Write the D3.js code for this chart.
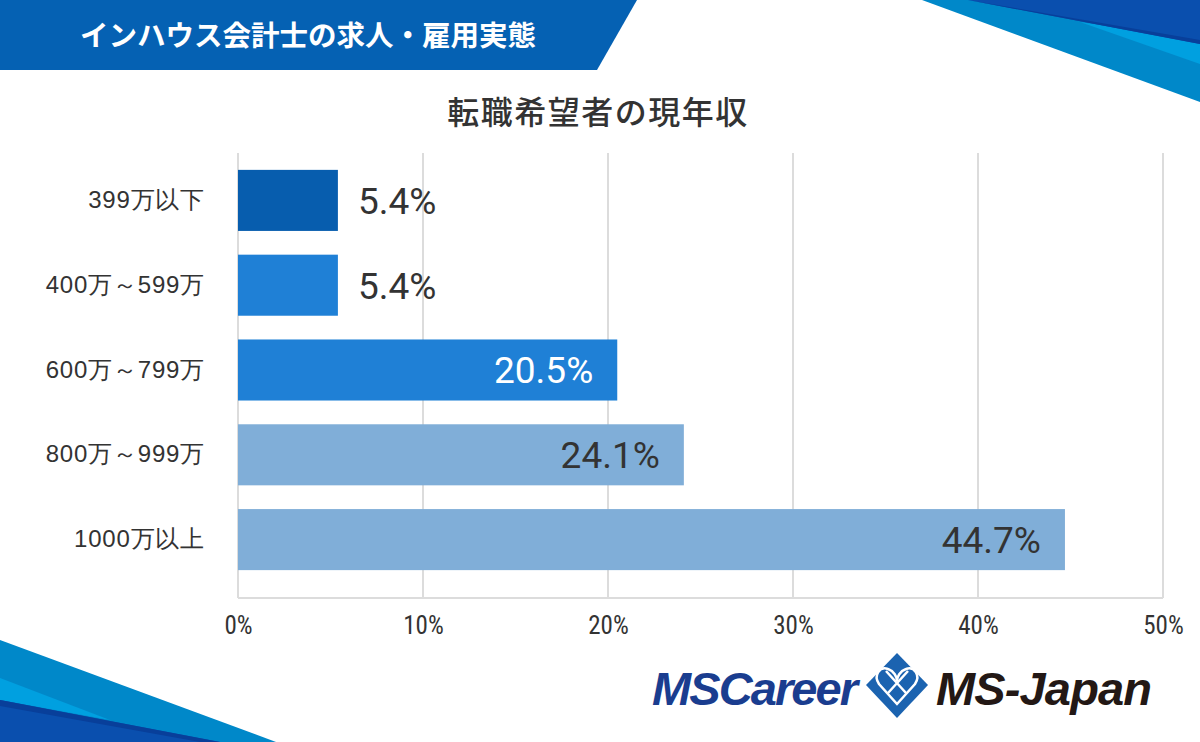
<!DOCTYPE html>
<meta charset="utf-8">
<style>
  body { margin: 0; background: #fff; }
  svg { display: block; font-family: "Noto Sans CJK JP", "Noto Sans", Roboto, sans-serif; }
</style>
<body>
<script src="https://cdn.jsdelivr.net/npm/d3@7"></script>
<script>
// data
var categories = ['399万以下', '400万～599万', '600万～799万', '800万～999万', '1000万以上'];
var values = [5.4, 5.4, 20.5, 24.1, 44.7];
var barColors = ['#075dae', '#1f80d6', '#1f80d6', '#80aed8', '#80aed8'];
var tickValues = [0, 10, 20, 30, 40, 50];

var W = 1200, H = 742;
var svg = d3.select('body').append('svg').attr('width', W).attr('height', H);

// header band
svg.append('polygon').attr('points', '0,0 637,0 597,70 0,70').attr('fill', '#0561b3');
svg.append('text').attr('x', 80).attr('y', 46)
    .attr('fill', '#fff').attr('font-size', 28.5).attr('font-weight', 700)
    .text('インハウス会計士の求人・雇用実態');

// top right decoration
svg.append('polygon').attr('points', '922,0 1200,0 1200,102').attr('fill', '#0088c9');
svg.append('polygon').attr('points', '1080,22 1200,40 1200,64').attr('fill', '#00a0e0');
svg.append('polygon').attr('points', '968,0 1200,0 1200,44').attr('fill', '#0a4fae');
svg.append('polygon').attr('points', '968,0 1200,40 1200,44').attr('fill', '#083f9a');

// bottom left decoration
svg.append('polygon').attr('points', '0,640 276,742 0,742').attr('fill', '#0088c9');
svg.append('polygon').attr('points', '0,678 110,720 0,700').attr('fill', '#00a0e0');
svg.append('polygon').attr('points', '0,700 220,742 0,742').attr('fill', '#0a4fae');
svg.append('polygon').attr('points', '0,700 0,706 200,742 220,742').attr('fill', '#083f9a');

// chart title
svg.append('text').attr('x', 598).attr('y', 124).attr('text-anchor', 'middle')
    .attr('fill', '#333').attr('font-size', 32).attr('font-weight', 500)
    .attr('letter-spacing', 1.5)
    .text('転職希望者の現年収');

var x = d3.scaleLinear().domain([0, 50]).range([238, 1163]);
var y = d3.scaleBand().domain(categories).range([158, 582]).paddingInner(0.28).paddingOuter(0.14);

// gridlines
svg.append('g').selectAll('line').data(tickValues).enter().append('line')
    .attr('x1', function(d) { return x(d); }).attr('x2', function(d) { return x(d); })
    .attr('y1', 153).attr('y2', 598)
    .attr('stroke', '#dcdcdc').attr('stroke-width', 2);
svg.append('line').attr('x1', x(0)).attr('x2', x(50)).attr('y1', 598).attr('y2', 598)
    .attr('stroke', '#dcdcdc').attr('stroke-width', 2);

// x axis
var xAxis = svg.append('g').attr('transform', 'translate(0,613)')
    .call(d3.axisBottom(x).tickValues(tickValues).tickSize(0).tickFormat(function(d) { return d + '%'; }));
xAxis.select('.domain').remove();
xAxis.selectAll('text').attr('font-size', 25).attr('fill', '#333')
    .attr('font-family', '"Liberation Sans Narrow", "Roboto Condensed", Roboto, sans-serif');

// y axis
var yAxis = svg.append('g').attr('transform', 'translate(205,0)')
    .call(d3.axisLeft(y).tickSize(0).tickPadding(0));
yAxis.select('.domain').remove();
yAxis.selectAll('text').attr('font-size', 24).attr('fill', '#333')
    .attr('font-weight', 500).attr('letter-spacing', 0.8);

// bars
var rows = categories.map(function(c, i) { return {cat: c, value: values[i], color: barColors[i]}; });
svg.append('g').selectAll('rect').data(rows).enter().append('rect')
    .attr('x', x(0)).attr('y', function(d) { return y(d.cat); })
    .attr('width', function(d) { return x(d.value) - x(0); })
    .attr('height', y.bandwidth())
    .attr('fill', function(d) { return d.color; });

// value labels
svg.append('g').selectAll('text').data(rows).enter().append('text')
    .attr('x', function(d) { return d.value < 10 ? x(d.value) + 20 : x(d.value) - 24; })
    .attr('y', function(d) { return y(d.cat) + y.bandwidth() / 2; })
    .attr('dy', '0.36em')
    .attr('text-anchor', function(d) { return d.value < 10 ? 'start' : 'end'; })
    .attr('font-family', 'Roboto, sans-serif')
    .attr('font-size', 37).attr('font-weight', 400)
    .attr('fill', function(d, i) { return i == 2 ? '#fff' : '#333'; })
    .text(function(d) { return d.value.toFixed(1) + '%'; });

// logo
var logo = svg.append('g');
logo.append('text').attr('x', 652).attr('y', 705)
    .attr('font-family', '"Liberation Sans", Arial, sans-serif').attr('font-weight', 'bold')
    .attr('font-style', 'italic').attr('font-size', 47).attr('fill', '#1a3d8f')
    .attr('textLength', 206)
    .text('MSCareer');
logo.append('polygon').attr('points', '897,653 928,685 897,718 866,685').attr('fill', '#1b63b0');
logo.append('path')
    .attr('d', 'M897,704 L879,684 C873,675 880,666 888,669 C894,671 897,677 897,681 C897,677 900,671 906,669 C914,666 921,675 915,684 Z')
    .attr('fill', 'none').attr('stroke', '#fff').attr('stroke-width', 2.5);
logo.append('path')
    .attr('d', 'M886,671 L906,693 M908,671 L888,693')
    .attr('fill', 'none').attr('stroke', '#fff').attr('stroke-width', 2.5);
logo.append('text').attr('x', 936).attr('y', 705)
    .attr('font-family', '"Liberation Sans", Arial, sans-serif').attr('font-weight', 'bold')
    .attr('font-style', 'italic').attr('font-size', 47).attr('fill', '#231815')
    .attr('textLength', 216)
    .text('MS-Japan');
</script>
</body>
